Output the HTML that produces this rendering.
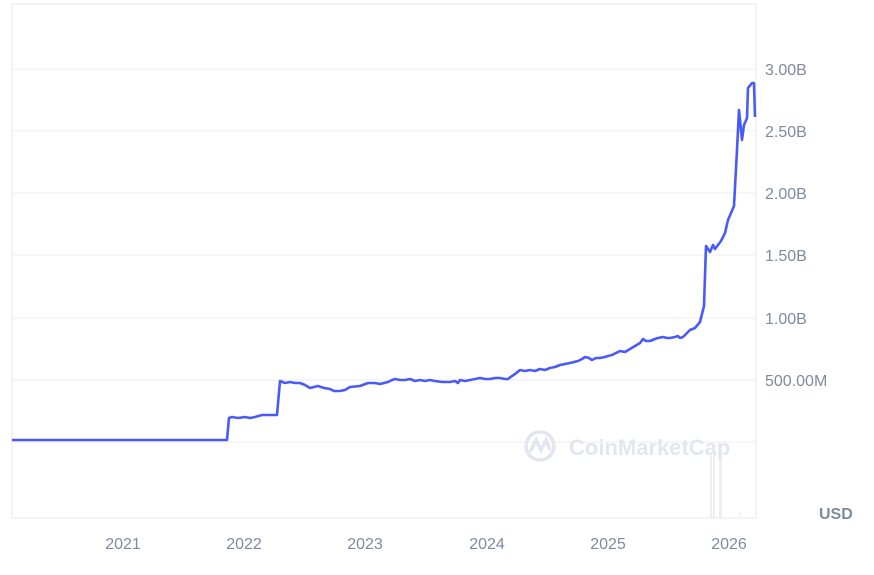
<!DOCTYPE html>
<html><head><style>
body{margin:0;background:#fff;width:874px;height:570px;overflow:hidden;font-family:"Liberation Sans",sans-serif}
</style></head><body>
<svg width="874" height="570" viewBox="0 0 874 570" xmlns="http://www.w3.org/2000/svg">
<rect x="12" y="4" width="744" height="514" fill="none" stroke="#eff1f4" stroke-width="1.5"/>
<g stroke="#eceef2" stroke-width="1">
<line x1="12" y1="69" x2="756" y2="69"/><line x1="12" y1="131" x2="756" y2="131"/>
<line x1="12" y1="193" x2="756" y2="193"/><line x1="12" y1="255" x2="756" y2="255"/>
<line x1="12" y1="318" x2="756" y2="318"/><line x1="12" y1="380" x2="756" y2="380"/>
<line x1="12" y1="442" x2="756" y2="442"/>
</g>
<g fill="#eceef3">
<rect x="710" y="455" width="2" height="63"/><rect x="713" y="455" width="2" height="63"/><rect x="719" y="455" width="3" height="63"/><rect x="739" y="512" width="1" height="6"/>
</g>
<g>
<circle cx="540" cy="446" r="14" fill="none" stroke="#e3e6ee" stroke-width="3.5"/>
<path d="M530 452 L536 440 L541 450 L546 440 L550 450" fill="none" stroke="#e3e6ee" stroke-width="3.5"/>
<text x="569" y="455" font-size="22" font-weight="bold" fill="#e3e6ee">CoinMarketCap</text>
</g>
<polyline fill="none" stroke="#4a5af7" stroke-width="2.6" stroke-linejoin="round" points="12,440 227,440 229,418 232,417 238,418 245,417 250,418 255,417 262,415 270,415 277,415 280,381 285,383 290,382 295,383 300,383 305,385 310,388 318,386 324,388 330,389 334,391 340,391 345,390 350,387 360,386 368,383 375,383 380,384 388,382 392,380 395,379 400,380 405,380 410,379 415,381 420,380 425,381 430,380 435,381 442,382 450,382 455,381 458,383 460,380 465,381 470,380 475,379 480,378 485,379 490,379 495,378 500,378 505,379 508,379 512,376 515,374 520,370 525,371 530,370 535,371 540,369 545,370 550,368 555,367 560,365 565,364 570,363 574,362 578,361 582,359 585,357 589,358 592,360 596,358 600,358 605,357 608,356 612,355 616,353 620,351 625,352 630,349 635,346 640,343 643,339 646,341 650,341 655,339 658,338 663,337 667,338 670,338 675,337 678,336 680,338 683,337 685,335 690,330 695,328 700,322 704,306 706,246 710,252 713,245 715,249 721,241 725,233 728,220 734,206 737,150 739,110 742,140 744,125 747,118 748,88 752,83 754,83 755,117"/>
<g font-size="16" fill="#808a9d">
<text x="765" y="75">3.00B</text><text x="765" y="137">2.50B</text>
<text x="765" y="199">2.00B</text><text x="765" y="261">1.50B</text>
<text x="765" y="324">1.00B</text><text x="765" y="386">500.00M</text>
<text x="819" y="519" font-weight="bold">USD</text>
</g>
<g font-size="16" fill="#808a9d" text-anchor="middle">
<text x="123" y="549">2021</text><text x="244" y="549">2022</text><text x="365" y="549">2023</text>
<text x="487" y="549">2024</text><text x="608" y="549">2025</text><text x="729" y="549">2026</text>
</g>
</svg>
</body></html>
